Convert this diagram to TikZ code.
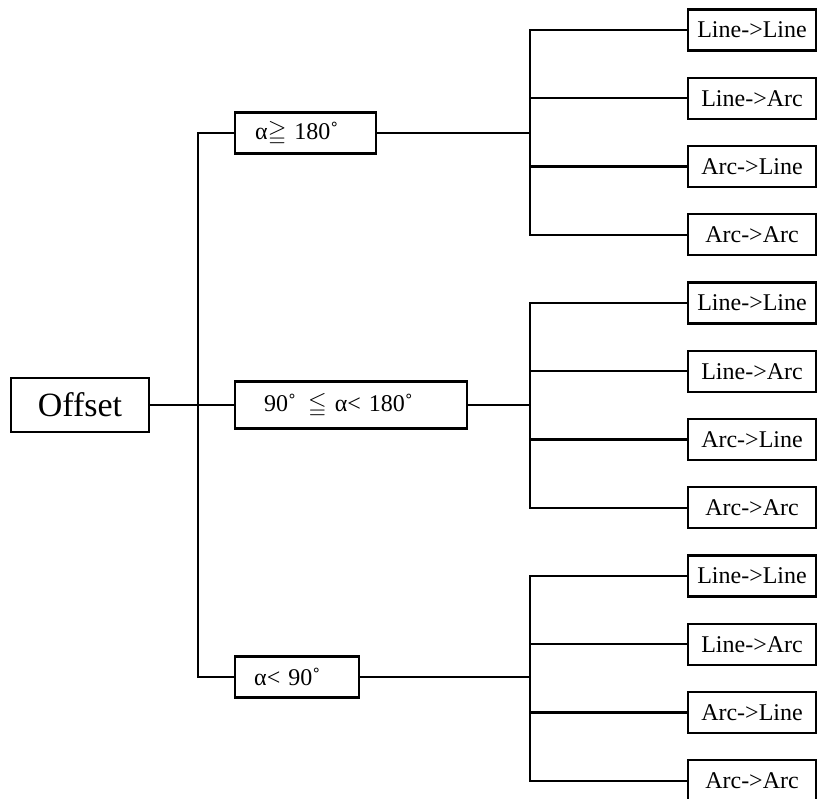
\documentclass[tikz,border=0pt]{standalone}
\usepackage{amssymb}
\usepackage{fontspec}
\setmainfont{Liberation Serif}
\begin{document}
\begin{tikzpicture}[x=0.5pt,y=-0.5pt,
  box/.style={draw,line width=1.2pt,inner sep=0pt,font=\fontsize{12}{14}\selectfont},
  leaf/.style={box,minimum width=64pt,minimum height=20.5pt},
  cond/.style={box,anchor=west,minimum height=20.5pt,align=left},
  wire/.style={line width=1.2pt}]
\useasboundingbox (0,0) rectangle (817,798);
\pgfmathsetmacro{\kpitch}{68.25}
\node[box,minimum width=69pt,minimum height=27pt,font=\fontsize{17}{20}\selectfont] (off) at (80,405) {Offset};
\node[cond,inner xsep=10pt,text width=50.5pt] (g1) at (234,133) {α$\geqq$ 180˚};
\node[cond,inner xsep=14.5pt,text width=87pt,minimum height=23.5pt] (g2) at (234,405) {90˚\,\ $\leqq$\ α<\ 180˚};
\node[cond,inner xsep=9.5pt,text width=43pt] (g3) at (234,677) {α< 90˚};
\coordinate (tr) at (198,405);
\draw[wire] (off.east) -- (g2.west);
\draw[wire] (g1.west) -| (tr) |- (g3.west);
\foreach \g in {1,2,3}{
  \foreach \t [count=\k] in {Line->Line,Line->Arc,Arc->Line,Arc->Arc}{
    \node[leaf] (l\g\k) at (752,{30+\kpitch*(4*(\g-1)+\k-1)}) {\t};
  }
  \coordinate (b\g) at (530,0 |- g\g.east);
  \draw[wire] (g\g.east) -- (b\g);
  \draw[wire] (l\g1.west) -| (b\g) |- (l\g4.west);
  \draw[wire] (b\g |- l\g2.west) -- (l\g2.west);
  \draw[wire] (b\g |- l\g3.west) -- (l\g3.west);
}
\end{tikzpicture}
\end{document}
